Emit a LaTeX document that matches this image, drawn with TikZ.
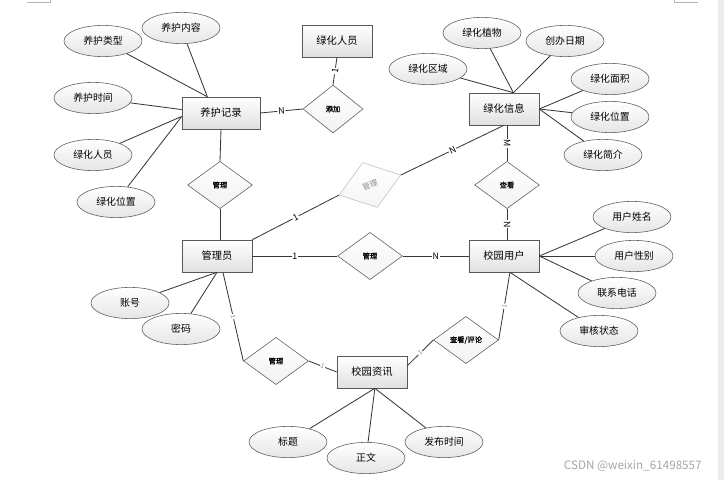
\documentclass[tikz,border=0pt]{standalone}
\usepackage{fontspec}
\setmainfont{Noto Sans CJK SC}
\newfontfamily\relfont[FakeBold=1]{Noto Sans CJK SC}
\usetikzlibrary{shapes.geometric, calc}
\definecolor{stripgray}{RGB}{233,238,240}

\begin{document}
\begin{tikzpicture}[x=0.025cm, y=-0.025cm,
    entity/.style = {rectangle, minimum width=1.75cm, minimum height=0.8cm, text centered, draw=black!65, top color=white, bottom color=black!12, font=\fontsize{7.3}{8}\selectfont},
    attr/.style = {ellipse, minimum width=1.95cm, minimum height=0.78cm, inner sep=0pt, draw=black!65, top color=white, bottom color=black!10, font=\fontsize{7}{8}\selectfont},
    relation/.style = {diamond, minimum width=1.62cm, minimum height=1.18cm, inner sep=0pt, draw=black!65, top color=white, bottom color=black!5, font=\relfont\fontsize{5.2}{6}\selectfont},
    link/.style = {draw=black!78, line width=0.6pt},
    card/.style = {fill=white, inner sep=0.6pt, sloped, font=\fontsize{6.3}{7}\selectfont},
    faint/.style = {card, text=black!45, font=\fontsize{4.5}{5}\selectfont}]
    \useasboundingbox (0,0) rectangle (724,480);
    \fill [stripgray] (718,0) rectangle (724,480);
    \draw [black!30] (27,2) -- (50,2) -- (50,0);
    \draw [black!30] (674,0) -- (674,2) -- (698,2);

    % Entities
    \node (record) [entity, minimum width=1.95cm] at (221,113) {养护记录};
    \node (staff) [entity] at (337,41) {绿化人员};
    \node (green) [entity] at (504,109) {绿化信息};
    \node (admin) [entity] at (217,256) {管理员};
    \node (user) [entity] at (504,256) {校园用户};
    \node (news) [entity] at (372,372) {校园资讯};

    % Relations
    \node (add) [relation, minimum width=1.5cm, minimum height=1.2cm] at (333,109) {添加};
    \node (manage1) [relation] at (220,185) {管理};
    \node (manage2) [relation, rotate=18, draw=black!25, bottom color=black!4, text=black!45, font=\fontsize{5.5}{6}\selectfont\itshape] at (370,185) {管理};
    \node (view1) [relation] at (507,185) {查看};
    \node (manage3) [relation] at (370,256) {管理};
    \node (manage4) [relation] at (276,361) {管理};
    \node (comment) [relation] at (466,340) {查看/评论};

    % Attributes
    \node (rtype) [attr] at (103,41) {养护类型};
    \node (rcont) [attr] at (181,28) {养护内容};
    \node (rtime) [attr] at (93,98) {养护时间};
    \node (rstaff) [attr] at (93,155) {绿化人员};
    \node (rplace) [attr] at (116,202) {绿化位置};
    \node (gplant) [attr] at (482,33) {绿化植物};
    \node (gdate) [attr] at (565,41) {创办日期};
    \node (garea) [attr] at (428,69) {绿化区域};
    \node (gsize) [attr] at (610,79) {绿化面积};
    \node (gplace) [attr] at (610,117) {绿化位置};
    \node (gintro) [attr] at (603,155) {绿化简介};
    \node (uname) [attr] at (632,217) {用户姓名};
    \node (usex) [attr] at (634,256) {用户性别};
    \node (utel) [attr] at (617,293) {联系电话};
    \node (ustate) [attr] at (599,331) {审核状态};
    \node (aacc) [attr] at (130,303) {账号};
    \node (apwd) [attr] at (181,329) {密码};
    \node (ntitle) [attr] at (288,442) {标题};
    \node (ntext) [attr] at (366,458) {正文};
    \node (ntime) [attr] at (444,442) {发布时间};

    \node (mark) [anchor=west, text=black!35, font=\fontsize{8.3}{9}\selectfont] at (559,466) {CSDN @weixin\_61498557};

    % Attribute lines
    \draw [link] (rtype) -- (record.130);
    \draw [link] (rcont) -- (record.130);
    \draw [link] (rtime) -- (record.175);
    \draw [link] (rstaff) -- (record.185);
    \draw [link] (rplace) -- (record.185);
    \draw [link] (gplant) -- (green.60);
    \draw [link] (gdate) -- (green.60);
    \draw [link] (garea) -- (green.60);
    \draw [link] (gsize) -- (green.east);
    \draw [link] (gplace) -- (green.east);
    \draw [link] (gintro) -- (green.east);
    \draw [link] (uname) -- (user.east);
    \draw [link] (usex) -- (user.east);
    \draw [link] (utel) -- (user.east);
    \draw [link] (ustate) -- (user.290);
    \draw [link] (aacc) -- (admin.south);
    \draw [link] (apwd) -- (admin.south);
    \draw [link] (ntitle) -- (news.280);
    \draw [link] (ntext) -- (news.280);
    \draw [link] (ntime) -- (news.280);

    % Relation lines
    \draw [link] (record.east) -- node[card] {N} (add.west);
    \draw [link] (staff.south) -- node[card] {1} (add.north);
    \draw [link] (record.south) -- (manage1.north);
    \draw [link] (manage1.south) -- (manage1.south |- admin.north);
    \draw [link] (admin.north east) -- node[card] {1} (manage2.west);
    \draw [link] (manage2.east) -- node[card] {N} (green.south);
    \draw [link] (admin.east) -- node[card] {1} (manage3.west);
    \draw [link] (manage3.east) -- node[card] {N} (user.west);
    \draw [link] (view1.north |- green.south) -- node[card] {M} (view1.north);
    \draw [link] (view1.south) -- node[card] {N} (view1.south |- user.north);
    \draw [link] (admin.290) -- node[faint] {1} (manage4.west);
    \draw [link] (manage4.east) -- node[faint] {1} (news.west);
    \draw [link] (news.10) -- node[faint] {1} (comment.west);
    \draw [link] (comment.east) -- node[faint] {1} (user.290);
\end{tikzpicture}
\end{document}
